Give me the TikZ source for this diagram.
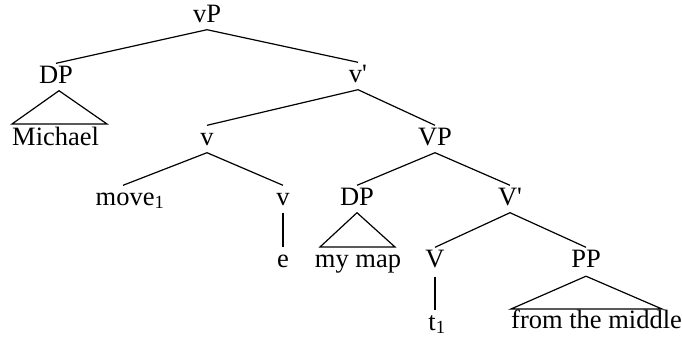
\documentclass[tikz,border=0pt]{standalone}
\usepackage{fontspec}
\setmainfont{Liberation Serif}[Ligatures=TeXOff]
\usetikzlibrary{calc}
\begin{document}
\begin{tikzpicture}[x=1pt,y=-1pt,
  lab/.style={inner sep=1.5pt, text height=18pt, text depth=6pt, anchor=base, font=\fontsize{26.5}{30}\selectfont},
  edge/.style={draw=black, line width=1.2pt, line join=miter}]
\useasboundingbox (0,0) rectangle (682,338);
% nodes
\node[lab] (vP) at (207,22) {vP};
\node[lab] (DPa) at (56,83) {DP};
\node[lab] (vbar) at (358,82) {v'};
\node[lab,anchor=base west,inner sep=0pt] (michael) at (12,145) {Michael};
\node[lab] (v1) at (207,145) {v};
\node[lab] (VP) at (435,145) {VP};
\node[lab] (move) at (130,205) {move\textsubscript{1}};
\node[lab] (v2) at (283,205) {v};
\node[lab] (e) at (283,267) {e};
\node[lab] (DPb) at (357,205) {DP};
\node[lab] (mymap) at (358,267) {my map};
\node[lab] (Vbar) at (510,205) {V'};
\node[lab] (V) at (435,267) {V};
\node[lab] (t1) at (437,330) {t\textsubscript{1}};
\node[lab] (PP) at (586,267) {PP};
\node[lab,anchor=base west,inner sep=0pt] (from) at (511,328) {from the middle};
% triangle corners
\coordinate (mL) at (12,124);
\coordinate (mR) at (107,124);
\coordinate (pL) at (320,247);
\coordinate (pR) at (395,247);
\coordinate (fL) at (511,309);
\coordinate (fR) at (662,309);
% edges
\draw[edge] (vP.south) -- (DPa.north);
\draw[edge] (vP.south) -- (vbar.north);
\draw[edge] (vbar.south) -- (v1.north);
\draw[edge] (vbar.south) -- (VP.north);
\draw[edge] (v1.south) -- ($(move.north)+(-7,0)$);
\draw[edge] (v1.south) -- (v2.north);
\draw[edge] (v2.south) -- (e.north);
\draw[edge] (VP.south) -- (DPb.north);
\draw[edge] (VP.south) -- (Vbar.north);
\draw[edge] (Vbar.south) -- (V.north);
\draw[edge] (Vbar.south) -- (PP.north);
\draw[edge] ($(V.south)+(0,2)$) -- ($(t1.north)+(-2,0)$);
% triangles
\draw[edge] ($(DPa.south)+(3,0)$) -- (mL) -- (mR) -- cycle;
\draw[edge] (DPb.south) -- (pL) -- (pR) -- cycle;
\draw[edge] ($(PP.south)+(0,1.5)$) -- (fL) -- (fR) -- cycle;
\end{tikzpicture}
\end{document}
